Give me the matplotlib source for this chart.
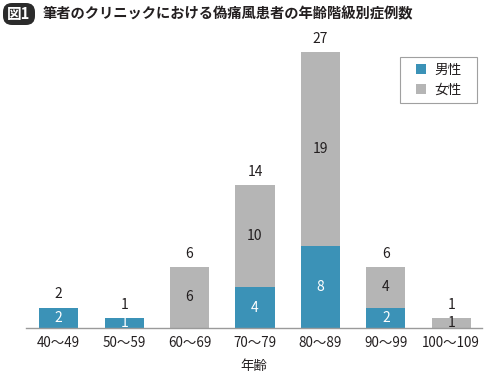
import numpy as np
import matplotlib
matplotlib.use("Agg")
from matplotlib import pyplot as plt
from matplotlib.patches import FancyBboxPatch, Rectangle

plt.rcParams['font.family'] = ['Noto Sans CJK JP', 'DejaVu Sans']

## data ##
age_groups = ['40〜49', '50〜59', '60〜69', '70〜79', '80〜89', '90〜99', '100〜109']
male = [2, 1, 0, 4, 8, 2, 0]
female = [0, 0, 6, 10, 19, 4, 1]

BLUE = '#3b92b7'
GRAY = '#b5b5b5'
TXT = '#231f20'

fig = plt.figure(figsize=(4.89, 3.72), dpi=100)
ax = fig.add_axes([0.0532, 0.1183, 0.9325, 0.801])

x = np.arange(len(age_groups))
male = np.array(male)
female = np.array(female)
total = male + female

ax.bar(x, male, 0.6, color=BLUE, label='男性')
ax.bar(x, female, 0.6, bottom=male, color=GRAY, label='女性')

# labels inside segments and on top
for i in x:
    if male[i] > 0:
        ax.text(i, male[i] / 2, str(male[i]), ha='center', va='center',
                color='white', fontsize=10)
    if female[i] > 0:
        ax.text(i, male[i] + female[i] / 2, str(female[i]), ha='center', va='center',
                color=TXT, fontsize=10)
    ax.text(i, total[i] + 0.6, str(total[i]), ha='center', va='bottom',
            color=TXT, fontsize=10)

ax.set_xlim(-0.5, 6.47)
ax.set_ylim(0, 29.2)
ax.set_xticks(x)
ax.set_xticklabels(age_groups, fontsize=9.7, color=TXT)
ax.tick_params(axis='x', length=0, pad=6)
ax.set_yticks([])
for s in ['top', 'right', 'left']:
    ax.spines[s].set_visible(False)
ax.spines['bottom'].set_color('#9a9a9a')
ax.spines['bottom'].set_linewidth(1.0)
ax.set_xlabel('年齢', fontsize=9.7, color=TXT, labelpad=6)

# legend: own frame box, legend itself unframed and centred in it
frame = Rectangle((4.00, 2.69), 0.77, 0.46, transform=fig.dpi_scale_trans,
                  facecolor='white', edgecolor='#a0a0a0', linewidth=0.8)
fig.patches.append(frame)
leg = fig.legend(loc='center', bbox_to_anchor=(4.385, 2.92), bbox_transform=fig.dpi_scale_trans,
                 fontsize=9.8, frameon=False, handlelength=0.75, handleheight=0.75,
                 handletextpad=0.6, borderpad=0, labelspacing=0.45, borderaxespad=0)
for t in leg.get_texts():
    t.set_color(TXT)

# title with "図1" badge (inches, so the corners stay round)
badge = FancyBboxPatch((0.03, 3.47), 0.32, 0.22, boxstyle='round,pad=0,rounding_size=0.09',
                       transform=fig.dpi_scale_trans, facecolor='#2b2b2b', edgecolor='none')
fig.patches.append(badge)
fig.text(0.19, 3.58, '図1', ha='center', va='center', color='white',
         fontsize=10.5, fontweight='bold', transform=fig.dpi_scale_trans)
fig.text(0.43, 3.58, '筆者のクリニックにおける偽痛風患者の年齢階級別症例数',
         ha='left', va='center', color=TXT, fontsize=10.3, fontweight='bold',
         transform=fig.dpi_scale_trans)

fig.savefig('out.png', dpi=100)
